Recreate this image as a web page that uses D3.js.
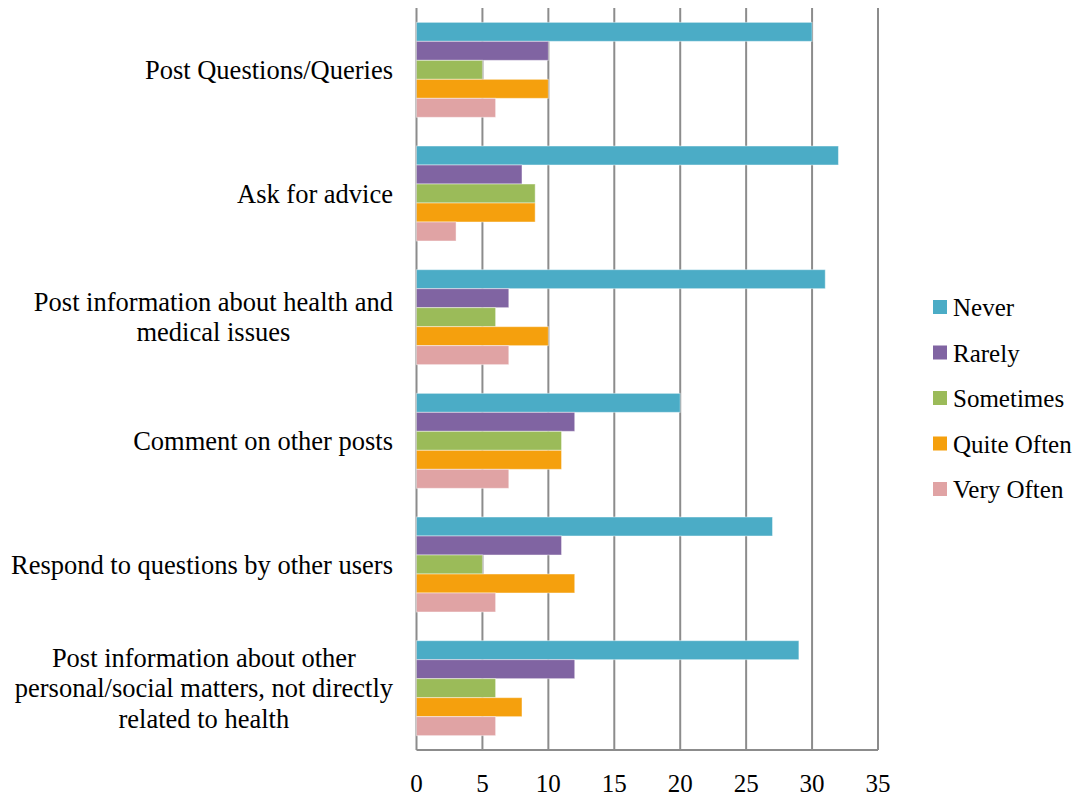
<!DOCTYPE html>
<html><head><meta charset="utf-8">
<script src="https://cdn.jsdelivr.net/npm/d3@7"></script>
<style>
body{margin:0;background:#fff;}
text{font-family:"Liberation Serif","Times New Roman",serif;fill:#000;}
</style></head>
<body><svg id="c" width="1084" height="797"></svg>
<script>
const categories = [
  "Post Questions/Queries",
  "Ask for advice",
  "Post information about health and\nmedical issues",
  "Comment on other posts",
  "Respond to questions by other users",
  "Post information about other\npersonal/social matters, not directly\nrelated to health"
];
const seriesNames = ["Never","Rarely","Sometimes","Quite Often","Very Often"];
const never      = [30, 32, 31, 20, 27, 29];
const rarely     = [10,  8,  7, 12, 11, 12];
const sometimes  = [ 5,  9,  6, 11,  5,  6];
const quiteOften = [10,  9, 10, 11, 12,  8];
const veryOften  = [ 6,  3,  7,  7,  6,  6];
const xTicks = [0,5,10,15,20,25,30,35];
const colors = ["#4BACC6","#8064A2","#9BBB59","#F5A00D","#E0A3A4"];

(function(){
const seriesValues = [never, rarely, sometimes, quiteOften, veryOften];
const svg = d3.select("#c");
const pLeft = 416.5, pRight = 878, pTop = 8, pBottom = 750;

const x = d3.scaleLinear().domain([0,35]).range([pLeft,pRight]);
const y = d3.scaleBand().domain(categories).range([pTop,pBottom]).paddingInner(0.232).paddingOuter(0.116);
const yi = d3.scaleBand().domain(seriesNames).range([0,y.bandwidth()]);
const color = d3.scaleOrdinal().domain(seriesNames).range(colors);

svg.append("g").selectAll("line").data(xTicks).join("line")
  .attr("x1",d=>x(d)).attr("x2",d=>x(d)).attr("y1",pTop).attr("y2",pBottom)
  .attr("stroke","#8c8c8c").attr("stroke-width",2);
svg.append("line").attr("x1",pLeft).attr("x2",pRight).attr("y1",pBottom).attr("y2",pBottom)
  .attr("stroke","#8c8c8c").attr("stroke-width",2);

const rows = [];
categories.forEach((c,i)=>seriesNames.forEach((s,j)=>rows.push({c,s,v:seriesValues[j][i]})));
svg.append("g").selectAll("rect").data(rows).join("rect")
  .attr("x",x(0)).attr("y",d=>y(d.c)+yi(d.s))
  .attr("width",d=>x(d.v)-x(0)).attr("height",yi.bandwidth())
  .attr("fill",d=>color(d.s))
  .attr("stroke","rgba(255,255,255,0.45)").attr("stroke-width",1);

svg.append("g").selectAll("text").data(xTicks).join("text")
  .attr("x",d=>x(d)).attr("y",792).attr("text-anchor","middle")
  .attr("font-size",25).text(d=>d);

const labelRight = 393, lh = 30.5;
categories.forEach(c=>{
  const lines = c.split("\n");
  const g = svg.append("text").attr("font-size",26.5).attr("text-anchor","middle");
  const cy = y(c)+y.bandwidth()/2;
  const y0 = cy - (lines.length-1)*lh/2 + 9;
  const tsp = lines.map((l,k)=>g.append("tspan").attr("y",y0+k*lh).text(l));
  let maxW = 0;
  tsp.forEach(t=>{maxW=Math.max(maxW,t.node().getComputedTextLength());});
  tsp.forEach(t=>t.attr("x",labelRight-maxW/2));
});

const lg = svg.append("g");
seriesNames.forEach((s,i)=>{
  const cy = 307 + i*45.5;
  lg.append("rect").attr("x",933).attr("y",cy-7).attr("width",14).attr("height",14).attr("fill",color(s));
  lg.append("text").attr("x",953).attr("y",cy+9).attr("font-size",25).text(s);
});
})();
</script></body></html>
